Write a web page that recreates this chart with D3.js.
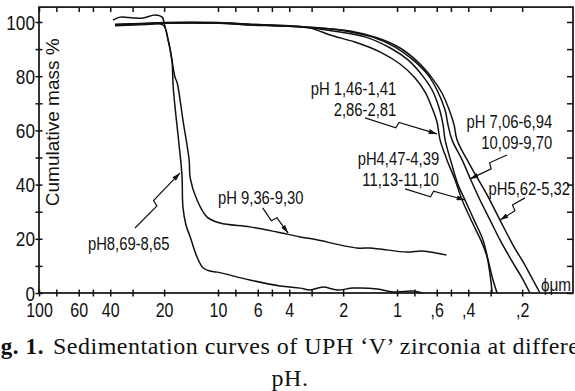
<!DOCTYPE html>
<html>
<head>
<meta charset="utf-8">
<title>Sedimentation curves</title>
<script src="https://cdn.jsdelivr.net/npm/d3@7"></script>
<style>
body { margin: 0; background: #fff; }
svg { display: block; }
.tick text, .lbl { font-family: "Liberation Sans", Arial, sans-serif; fill: #111; }
.cap { font-family: "Liberation Serif", "DejaVu Serif", serif; fill: #111; }
</style>
</head>
<body>
<script>
// [equivalent diameter um, cumulative mass %]
var ph146 = [[37.6,98.8],[25,99.3],[20,99.6],[10,99.6],[6.6,98.9],[4.5,98.5],[3.06,97.8],[2.37,95.2],[1.72,92.6],[1.24,88.9],[0.962,84.5],[0.793,79.3],[0.698,74.2],[0.637,68.3],[0.598,63.1],[0.575,56.5],[0.526,49.1],[0.474,41.7],[0.433,34.3],[0.381,26.2],[0.335,18.5],[0.314,13.3],[0.302,6.6],[0.294,0]];
var ph447 = [[37.6,99.0],[25,99.4],[20,99.7],[10,99.7],[6.6,99.1],[4.5,98.6],[3.06,97.9],[2.08,96.3],[1.51,94.5],[1.09,90.4],[0.868,86.0],[0.725,80.4],[0.637,74.9],[0.582,68.3],[0.553,62.0],[0.539,56.5],[0.493,47.2],[0.456,39.9],[0.417,34.3],[0.371,26.9],[0.331,19.6],[0.310,12.2],[0.291,4.8],[0.276,0]];
var ph706 = [[37.6,99.2],[25,99.5],[20,99.8],[10,99.8],[6.6,99.2],[4.5,98.8],[3.06,98.1],[1.95,96.7],[1.38,94.5],[1.03,90.8],[0.814,86.0],[0.671,80.4],[0.598,74.9],[0.539,67.5],[0.519,62.0],[0.493,56.5],[0.433,49.1],[0.391,42.4],[0.344,34.3],[0.302,26.9],[0.266,19.6],[0.225,11.1],[0.200,5.5],[0.181,0]];
var ph562 = [[37.6,98.6],[25,99.1],[20,99.5],[10,99.5],[6.6,99.0],[4.5,98.6],[3.06,98.0],[1.83,96.7],[1.28,94.1],[0.962,90.4],[0.763,85.2],[0.637,79.3],[0.561,73.8],[0.506,66.8],[0.480,62.0],[0.462,56.5],[0.391,47.2],[0.314,36.2],[0.266,26.9],[0.225,17.7],[0.193,10.3],[0.174,4.8],[0.159,0]];
var ph936 = [[37.6,98.9],[27.3,99.3],[20.3,98.9],[19.0,93.4],[18.1,86.0],[17.4,79.7],[16.9,77.5],[15.7,63.8],[14.5,49.1],[14.3,42.4],[13.1,34.3],[11.5,28.0],[9.75,25.8],[6.63,24.4],[4.68,22.5],[3.48,20.7],[2.94,19.9],[1.67,16.6],[1.42,16.6],[1.24,16.2],[0.88,15.1],[0.72,15.5],[0.53,14.0]];
var ph869 = [[38.6,100.7],[35.3,101.8],[29.8,101.5],[26.2,101.5],[22.5,102.6],[20.5,101.8],[20.0,99.6],[19.0,93.4],[18.1,86.0],[17.8,76.0],[17.2,65.7],[16.5,54.6],[15.9,43.5],[15.7,31.7],[15.1,25.1],[14.3,20.7],[13.1,13.3],[12.1,9.2],[11.1,8.1],[10.1,7.7],[6.63,4.8],[4.5,2.6],[3.48,1.8],[3.06,1.1],[2.59,2.2],[2.16,1.1],[1.76,1.8],[1.29,1.5],[1.05,0.4],[0.81,0.7],[0.72,0]];

var series = [ph146, ph447, ph706, ph562, ph936, ph869];

var xTicks = [100, 80, 60, 50, 40, 30, 20, 10, 8, 6, 5, 4, 3, 2, 1, 0.8, 0.6, 0.5, 0.4, 0.3, 0.2];
var xLabels = {100: "100", 60: "60", 40: "40", 20: "20", 10: "10", 6: "6", 4: "4", 2: "2", 1: "1", 0.6: ",6", 0.4: ",4", 0.2: ",2"};
var yTicks = [0, 10, 20, 30, 40, 50, 60, 70, 80, 90, 100];

// labels: lines, text anchor point, arrow from -> to (data units)
var notes = [
  {lines: ["pH 1,46-1,41", "2,86-2,81"], at: [1.01, 73.1], anchor: "end", from: [1.51, 64.6], to: [0.598, 58.7]},
  {lines: ["pH 7,06-6,94", "10,09-9,70"], at: [0.136, 60.9], anchor: "end", from: [0.243, 50.9], to: [0.391, 42.1]},
  {lines: ["pH4,47-4,39", "11,13-11,10"], at: [0.582, 47.2], anchor: "end", from: [0.902, 38.4], to: [0.417, 34.3]},
  {lines: ["pH5,62-5,32"], at: [0.108, 36.2], anchor: "end", from: [0.193, 35.1], to: [0.266, 26.9]},
  {lines: ["pH 9,36-9,30"], at: [10, 32.8], anchor: "start", from: [5.63, 31.4], to: [4.06, 22.1]},
  {lines: ["pH8,69-8,65"], at: [53.3, 15.9], anchor: "start", from: [29.1, 24.0], to: [16.3, 44.3]}
];

var W = 575, H = 391;
var svg = d3.select("body").append("svg").attr("width", W).attr("height", H);

var x = d3.scaleLog().domain([100, 0.104]).range([39, 573]);
var y = d3.scaleLinear().domain([0, 100]).range([293, 22]);
var yTop = y(105.5);

// lettering in the figure is condensed: squash text horizontally
function squeeze(sel, k) {
  sel.each(function() {
    var t = d3.select(this);
    var x0 = +t.attr("x") || 0;
    t.attr("x", x0 / k).attr("transform", "scale(" + k + ",1)");
  });
}

svg.append("defs").append("marker")
  .attr("id", "ah").attr("viewBox", "0 0 10 6").attr("refX", 10).attr("refY", 3)
  .attr("markerWidth", 9).attr("markerHeight", 5).attr("markerUnits", "userSpaceOnUse")
  .attr("orient", "auto")
  .append("path").attr("d", "M0,0L10,3L0,6Z").attr("fill", "#111");

// frame
svg.append("rect")
  .attr("x", x.range()[0]).attr("y", yTop)
  .attr("width", x.range()[1] - x.range()[0]).attr("height", y(0) - yTop)
  .attr("fill", "none").attr("stroke", "#111").attr("stroke-width", 1.7);

// bottom axis, ticks crossing
var gx = svg.append("g").attr("transform", "translate(0," + y(0) + ")")
  .call(d3.axisBottom(x).tickValues(xTicks).tickSize(3)
    .tickFormat(function(d) { return xLabels[d] || ""; }));
gx.select(".domain").remove();
gx.selectAll(".tick line").attr("y1", -3.5).attr("y2", 3.5).attr("stroke", "#111").attr("stroke-width", 1.5);
gx.selectAll(".tick text").attr("y", 24).attr("dy", null).attr("font-size", 20).call(squeeze, 0.8);

// top ticks, inward
var gt = svg.append("g").attr("transform", "translate(0," + yTop + ")")
  .call(d3.axisTop(x).tickValues(xTicks).tickSize(0).tickFormat(""));
gt.select(".domain").remove();
gt.selectAll(".tick line").attr("y1", 0).attr("y2", 5).attr("stroke", "#111").attr("stroke-width", 1.5);

// left axis, ticks crossing
var gy = svg.append("g").attr("transform", "translate(" + x.range()[0] + ",0)")
  .call(d3.axisLeft(y).tickValues(yTicks).tickSize(3)
    .tickFormat(function(d) { return d % 20 === 0 ? d : ""; }));
gy.select(".domain").remove();
gy.selectAll(".tick line").attr("x1", 3.5).attr("x2", -3.5).attr("stroke", "#111").attr("stroke-width", 1.5);
gy.selectAll(".tick text").attr("x", -4).attr("dy", "0.34em").attr("font-size", 21).call(squeeze, 0.82);

// right ticks, inward
var gr = svg.append("g").attr("transform", "translate(" + x.range()[1] + ",0)")
  .call(d3.axisRight(y).tickValues(yTicks).tickSize(0).tickFormat(""));
gr.select(".domain").remove();
gr.selectAll(".tick line").attr("x1", 0).attr("x2", -6).attr("stroke", "#111").attr("stroke-width", 1.5);

svg.append("text").attr("class", "lbl")
  .attr("transform", "translate(59," + y(63) + ") rotate(-90)")
  .attr("text-anchor", "middle").attr("font-size", 19)
  .text("Cumulative mass %");

svg.append("g").attr("transform", "translate(" + (x.range()[1] - 2) + "," + (y(0) - 2) + ") scale(0.85,1)")
  .append("text").attr("class", "lbl")
  .attr("text-anchor", "end").attr("font-size", 18)
  .text("ϕμm");

// curves
var line = d3.line()
  .x(function(d) { return x(d[0]); })
  .y(function(d) { return y(d[1]); })
  .curve(d3.curveCatmullRom.alpha(0.5));

svg.append("g").selectAll("path").data(series).enter().append("path")
  .attr("d", line)
  .attr("fill", "none").attr("stroke", "#111").attr("stroke-width", 1.5)
  .attr("stroke-linejoin", "round");

// annotations
notes.forEach(function(n) {
  var t = svg.append("g")
    .attr("transform", "translate(" + x(n.at[0]) + "," + y(n.at[1]) + ") scale(0.78,1)")
    .append("text").attr("class", "lbl")
    .attr("text-anchor", n.anchor).attr("font-size", 19);
  n.lines.forEach(function(s, i) {
    t.append("tspan").attr("x", 0).attr("y", i * 21).text(s);
  });
  var p0 = [x(n.from[0]), y(n.from[1])], p1 = [x(n.to[0]), y(n.to[1])];
  var dx = p1[0] - p0[0], dy = p1[1] - p0[1], L = Math.sqrt(dx * dx + dy * dy);
  var u = [dx / L, dy / L], nv = [-u[1], u[0]];
  var m = [p0[0] + dx * 0.45, p0[1] + dy * 0.45];
  var pts = [p0,
    [m[0] + nv[0] * 3 - u[0], m[1] + nv[1] * 3 - u[1]],
    [m[0] - nv[0] * 3 + u[0], m[1] - nv[1] * 3 + u[1]],
    p1];
  svg.append("path")
    .attr("d", "M" + pts.map(function(p) { return p[0] + "," + p[1]; }).join("L"))
    .attr("fill", "none").attr("stroke", "#111").attr("stroke-width", 1.2)
    .attr("marker-end", "url(#ah)");
});

// caption
svg.append("text").attr("class", "cap")
  .attr("x", 44).attr("y", 354).attr("text-anchor", "end")
  .attr("font-size", 23).attr("font-weight", "bold").attr("letter-spacing", 0.6)
  .text("Fig. 1.");
svg.append("text").attr("class", "cap")
  .attr("x", 53).attr("y", 354)
  .attr("font-size", 24).attr("letter-spacing", 0.5)
  .text("Sedimentation curves of UPH ‘V’ zirconia at different");
svg.append("text").attr("class", "cap")
  .attr("x", 290).attr("y", 386).attr("text-anchor", "middle")
  .attr("font-size", 24).attr("letter-spacing", 0.5)
  .text("pH.");
</script>
</body>
</html>
